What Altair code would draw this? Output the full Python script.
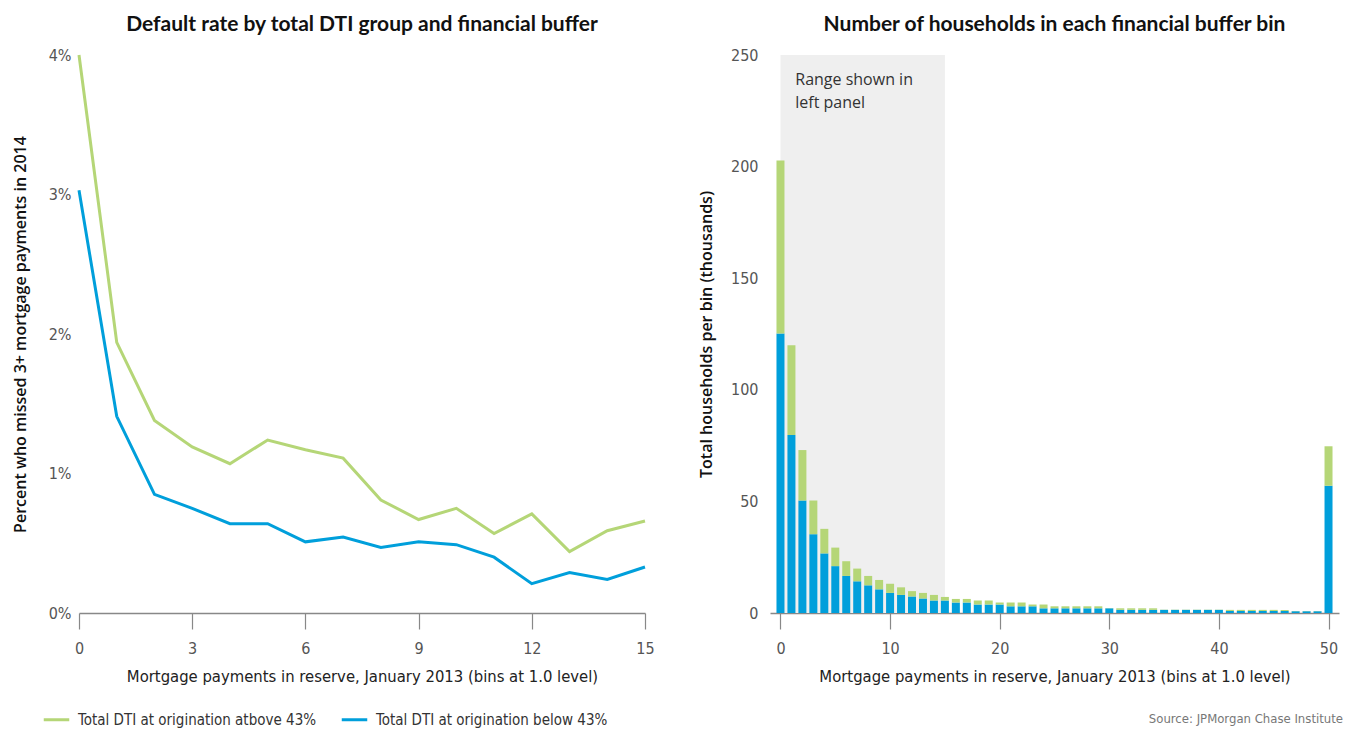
import altair as alt
import pandas as pd

# ---- data ----
series_names = ["Total DTI at origination atbove 43%", "Total DTI at origination below 43%"]
series_colors = ["#b5d677", "#009fdb"]

buffer_bins_left = list(range(16))
rate_above_43 = [4.00, 1.94, 1.38, 1.19, 1.07, 1.24, 1.17, 1.11, 0.81, 0.67, 0.75, 0.57, 0.71, 0.44, 0.59, 0.66]
rate_below_43 = [3.03, 1.41, 0.85, 0.75, 0.64, 0.64, 0.51, 0.545, 0.47, 0.51, 0.49, 0.40, 0.21, 0.29, 0.24, 0.33]

buffer_bins_right = list(range(51))
households_total = [202.7, 120.0, 73.0, 50.4, 37.7, 29.3, 23.2, 19.9, 16.6, 14.8,
                    13.1, 11.5, 9.8, 9.0, 8.1, 7.2, 6.3, 6.3, 5.6, 5.6,
                    4.7, 4.7, 4.7, 3.8, 3.8, 3.0, 3.0, 3.0, 3.0, 3.0,
                    2.2, 2.1, 2.1, 2.1, 2.1, 1.5, 1.5, 1.5, 1.5, 1.5,
                    1.5, 1.4, 1.4, 1.4, 1.4, 1.4, 1.4, 0.9, 0.9, 0.9,
                    74.7]
households_below = [125.2, 79.8, 50.4, 35.3, 26.7, 21.0, 16.6, 14.2, 12.4, 10.6,
                    9.0, 8.1, 7.4, 6.5, 5.6, 5.6, 4.7, 4.7, 3.8, 3.8,
                    3.8, 3.0, 3.0, 3.0, 2.1, 2.1, 2.1, 2.1, 2.1, 2.1,
                    2.1, 1.4, 1.4, 1.4, 1.4, 1.4, 1.4, 1.4, 1.4, 1.4,
                    1.4, 0.9, 0.9, 0.9, 0.9, 0.9, 0.9, 0.8, 0.8, 0.8,
                    57.0]

left_ticks = [0, 3, 6, 9, 12, 15]
right_ticks = [0, 10, 20, 30, 40, 50]
x_title = "Mortgage payments in reserve, January 2013 (bins at 1.0 level)"

# ---- tables ----
left_df = pd.DataFrame(
    [{"bin": b, "rate": v, "series": series_names[0]} for b, v in zip(buffer_bins_left, rate_above_43)]
    + [{"bin": b, "rate": v, "series": series_names[1]} for b, v in zip(buffer_bins_left, rate_below_43)]
)
right_rows = []
for b, t, lo in zip(buffer_bins_right, households_total, households_below):
    right_rows.append({"bin": b, "count": lo, "series": series_names[1], "ord": 0})
    right_rows.append({"bin": b, "count": round(t - lo, 2), "series": series_names[0], "ord": 1})
right_df = pd.DataFrame(right_rows)
band_df = pd.DataFrame({"x0": [0], "x1": [15], "y0": [0], "y1": [250]})
note_df = pd.DataFrame({"x": [1.35], "y": [242.5], "txt": [["Range shown in", "left panel"]]})

LABEL_FONT = "DejaVu Sans Condensed, Liberation Sans Narrow, sans-serif"
TITLE_FONT = "Lato, Noto Sans, sans-serif"

color_scale = alt.Scale(domain=series_names, range=series_colors)
W_L, W_R, H = 566, 569, 558

# ---- left panel ----
left = alt.Chart(left_df).mark_line(strokeWidth=3).encode(
    x=alt.X("bin:Q", scale=alt.Scale(domain=[0, 15], nice=False),
            axis=alt.Axis(values=left_ticks, title=x_title, grid=False, tickSize=16,
                          labelFlush=False, labelPadding=11, titlePadding=12)),
    y=alt.Y("rate:Q", scale=alt.Scale(domain=[0, 4], nice=False),
            axis=alt.Axis(values=[0, 1, 2, 3, 4], labelExpr="datum.value + '%'", grid=False,
                          domain=False, ticks=False, labelPadding=8, titlePadding=20,
                          title="Percent who missed 3+ mortgage payments in 2014")),
    color=alt.Color("series:N", scale=color_scale, sort=series_names,
                    legend=alt.Legend(title=None, orient="none", legendX=-37, legendY=650,
                                      direction="horizontal", symbolType="stroke",
                                      symbolStrokeWidth=3, symbolSize=650, columnPadding=18,
                                      labelFont=LABEL_FONT, labelFontSize=15, labelColor="#333",
                                      labelOffset=7, labelLimit=400)),
).properties(width=W_L, height=H,
             title=alt.TitleParams("Default rate by total DTI group and financial buffer",
                                   font=TITLE_FONT, fontSize=21, fontWeight="bold", color="#111",
                                   offset=12))

# ---- right panel ----
band = alt.Chart(band_df).mark_rect(color="#efefef").encode(
    x="x0:Q", x2="x1:Q", y="y0:Q", y2="y1:Q")
note = alt.Chart(note_df).mark_text(align="left", baseline="top", font="Open Sans, sans-serif",
                                   fontSize=16, color="#333", lineHeight=23).encode(
    x="x:Q", y="y:Q", text="txt")
bars = alt.Chart(right_df).mark_bar(size=8).encode(
    x=alt.X("bin:Q", scale=alt.Scale(domain=[-0.5, 50.5], nice=False, zero=False),
            axis=alt.Axis(values=right_ticks, title=x_title, grid=False, tickSize=16,
                          labelFlush=False, labelPadding=11, titlePadding=12)),
    y=alt.Y("count:Q", stack="zero", scale=alt.Scale(domain=[0, 250], nice=False),
            axis=alt.Axis(values=[0, 50, 100, 150, 200, 250], grid=False, domain=False,
                          ticks=False, labelPadding=12, titlePadding=16,
                          title="Total households per bin (thousands)")),
    color=alt.Color("series:N", scale=color_scale, legend=None),
    order=alt.Order("ord:Q"),
)
source = alt.Chart(note_df).mark_text(align="right", baseline="middle", font=LABEL_FONT,
                                      fontSize=13, color="#777").encode(
    x=alt.value(W_R + 4), y=alt.value(H + 106), text=alt.value("Source: JPMorgan Chase Institute"))

right = alt.layer(band, note, bars, source).properties(
    width=W_R, height=H,
    title=alt.TitleParams("Number of households in each financial buffer bin",
                          font=TITLE_FONT, fontSize=21, fontWeight="bold", color="#111",
                          offset=12))

chart = alt.hconcat(left, right, spacing=43).resolve_scale(color="shared").properties(
    padding={"left": 4, "top": 6, "right": 2, "bottom": 2}
).configure_view(stroke=None).configure_axis(
    labelFont=LABEL_FONT, labelFontSize=16, labelColor="#555",
    titleFont=LABEL_FONT, titleFontSize=16.5, titleFontWeight="normal", titleColor="#222",
    domainColor="#888", tickColor="#888", domainWidth=1.5, tickWidth=1.2
).configure_axisY(
    titleFont="Open Sans, sans-serif", titleFontSize=16, titleFontWeight=600, titleColor="#111"
)

chart.save("out.html", embed_options={"renderer": "svg", "actions": False})
